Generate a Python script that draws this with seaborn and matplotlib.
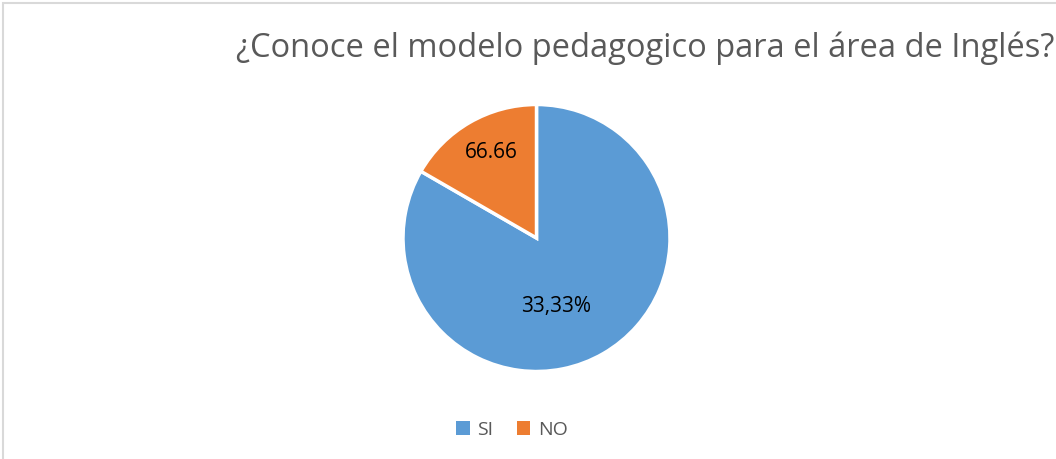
import matplotlib
matplotlib.use('Agg')
import matplotlib.pyplot as plt
import seaborn as sns
from matplotlib.patches import Rectangle

# Chart data
CATEGORIES = ['SI', 'NO']
SHARES = [83.33, 16.67]
SLICE_LABELS = ['33,33%', '66.66']
COLORS = ['#5b9bd5', '#ed7d31']
TITLE = '¿Conoce el modelo pedagogico para el área de Inglés?'

sns.set_theme(style='white')
plt.rcParams['font.family'] = ['Open Sans', 'DejaVu Sans']

W, H = 1056, 459
fig = plt.figure(figsize=(W / 100, H / 100), dpi=100)
fig.patch.set_facecolor('white')

# chart-area border (only top and left edges visible in the crop)
fig.patches.append(Rectangle((3 / W, -0.1), 1.2, (H - 3) / H + 0.1, transform=fig.transFigure,
                             fill=False, edgecolor='#d9d9d9', lw=1.5))

# pie axes: center (536.5, 221 from bottom), radius 133.5 px
r = 133.5
ax = fig.add_axes([(536.5 - r) / W, (221 - r) / H, 2 * r / W, 2 * r / H])
wedges, texts = ax.pie(SHARES, colors=COLORS, startangle=90, counterclock=False,
                       labels=SLICE_LABELS, labeldistance=0.6,
                       wedgeprops={'edgecolor': 'white', 'linewidth': 2.5},
                       textprops={'fontsize': 15, 'color': 'black'})
ax.set_xlim(-1, 1)
ax.set_ylim(-1, 1)
ax.set_aspect('equal')
ax.axis('off')

# nudge the labels toward where the original puts them
texts[0].set_position((0.15, -0.51))
texts[1].set_position((-0.34, 0.64))
for t in texts:
    t.set_ha('center')
    t.set_va('center')

fig.text(645 / W, 1 - 48 / H, TITLE, ha='center', va='center', fontsize=23.5, color='#595959')

fig.legend(wedges, CATEGORIES, loc='center', bbox_to_anchor=(512 / W, 1 - 430 / H), ncol=2,
           frameon=False, fontsize=14, labelcolor='#595959', handlelength=0.7, handleheight=0.7,
           handletextpad=0.4, columnspacing=1.2)
for h in fig.legends[0].legend_handles:
    h.set_edgecolor('none')

fig.savefig('out.png', dpi=100, facecolor='white')
